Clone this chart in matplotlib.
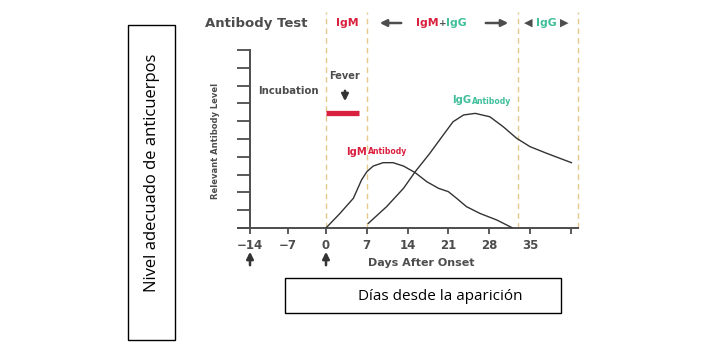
import matplotlib
matplotlib.use("Agg")
import numpy as np
import matplotlib.pyplot as plt
from matplotlib.patches import Rectangle

# ---- data ----
igm_days = [0, 2.4, 4.7, 6.1, 7.0, 8.1, 9.8, 11.5, 13.3, 15.3, 17.3, 19.3, 21.0, 22.4, 24.1, 26.4, 29.3, 31.9]
igm_level = [0.0, 0.82, 1.67, 2.70, 3.16, 3.48, 3.67, 3.67, 3.48, 3.11, 2.60, 2.23, 2.04, 1.67, 1.20, 0.82, 0.45, 0.02]
igg_days = [7.26, 10.4, 13.3, 15.3, 17.8, 20.1, 21.8, 23.6, 25.6, 28.1, 30.4, 32.7, 35.0, 37.9, 42.1]
igg_level = [0.26, 1.20, 2.23, 3.16, 4.19, 5.22, 5.97, 6.35, 6.44, 6.25, 5.69, 5.04, 4.57, 4.19, 3.67]
phase_bounds = [0, 7, 33.0, 43.2]
fever_start, fever_end, fever_level = 0, 5.6, 6.46
xtick_vals = [-14, -7, 0, 7, 14, 21, 28, 35, 42]
xtick_labels = ['\u221214', '\u22127', '0', '7', '14', '21', '28', '35', '']
ytick_vals = list(range(0, 11))

CF = dict(family=['DejaVu Sans'], fontweight='bold')
GRAY = '#4d4d4d'
RED = '#d9213f'
TEAL = '#3fbf9a'

fig = plt.figure(figsize=(7.13, 3.6), dpi=100)
ov = fig.add_axes([0, 0, 1, 1])
ov.set_xlim(0, 713)
ov.set_ylim(360, 0)
ov.axis('off')

# pre-onset days are drawn slightly compressed, as in the original figure
K = 0.931
def fwd(x):
    x = np.asarray(x, dtype=float)
    return np.where(x < 0, x * K, x)
def inv(x):
    x = np.asarray(x, dtype=float)
    return np.where(x < 0, x / K, x)

ax = fig.add_axes([238/713, (360-228)/360, 340/713, 178/360])
ax.patch.set_alpha(0)
ax.set_xscale('function', functions=(fwd, inv))
ax.set_xlim(-16.21, 43.23)
ax.set_ylim(0, 10)
for s in ['top', 'right']:
    ax.spines[s].set_visible(False)
ax.spines['left'].set_position(('data', -14))
ax.spines['left'].set_bounds(0, 10)
for s in ['left', 'bottom']:
    ax.spines[s].set_color(GRAY)
    ax.spines[s].set_linewidth(1.4)
ax.set_yticks(ytick_vals)
ax.tick_params(axis='y', length=9.5, width=1.3, color=GRAY, labelleft=False)
ax.set_xticks(xtick_vals)
ax.set_xticklabels(xtick_labels)
ax.xaxis.set_minor_locator(matplotlib.ticker.NullLocator())
ax.tick_params(axis='x', length=4, width=1.3, color=GRAY, pad=4, labelcolor=GRAY)
for lab in ax.get_xticklabels():
    lab.set_fontweight('bold')
    lab.set_fontsize(8.5)

ax.vlines(phase_bounds, 0, 12.13, colors='#e8c98c', linestyles=(0, (4, 3)), lw=1.0, clip_on=False, zorder=1)
ax.plot(igm_days, igm_level, color='#333333', lw=1.0, zorder=3)
ax.plot(igg_days, igg_level, color='#333333', lw=1.0, zorder=3)
ax.hlines(fever_level, fever_start, fever_end, colors=RED, lw=3.8, zorder=3)

# ---- annotations (pixel overlay) ----
ov.text(205, 23, 'Antibody Test', color=GRAY, fontsize=9.5, ha='left', va='center', **CF)
ov.text(347, 23, 'IgM', color=RED, fontsize=7.8, ha='center', va='center', **CF)
ov.annotate('', xy=(377, 23), xytext=(404, 23), arrowprops=dict(arrowstyle='-|>', color=GRAY, lw=1.8, mutation_scale=10))
ov.text(439, 23, 'IgM', color=RED, fontsize=7.8, ha='right', va='center', **CF)
ov.text(442.5, 24, '+', color=GRAY, fontsize=6.5, ha='center', va='center', **CF)
ov.text(446, 23, 'IgG', color=TEAL, fontsize=7.8, ha='left', va='center', **CF)
ov.annotate('', xy=(511, 23), xytext=(483, 23), arrowprops=dict(arrowstyle='-|>', color=GRAY, lw=1.8, mutation_scale=10))
ov.text(528, 23, '\u25C0', color=GRAY, fontsize=8, ha='center', va='center', family='DejaVu Sans')
ov.text(546, 23, 'IgG', color=TEAL, fontsize=7.8, ha='center', va='center', **CF)
ov.text(564, 23, '\u25B6', color=GRAY, fontsize=8, ha='center', va='center', family='DejaVu Sans')

ov.text(288, 91, 'Incubation', color=GRAY, fontsize=7.3, ha='center', va='center', **CF)
ov.text(345, 76, 'Fever', color=GRAY, fontsize=7, ha='center', va='center', **CF)
ov.annotate('', xy=(345, 104), xytext=(345, 88), arrowprops=dict(arrowstyle='-|>', color='#333333', lw=1.8, mutation_scale=10))

ov.text(452, 100, 'IgG', color=TEAL, fontsize=7.2, ha='left', va='center', **CF)
ov.text(472, 101, 'Antibody', color=TEAL, fontsize=5.6, ha='left', va='center', **CF)
ov.text(346, 152, 'IgM', color=RED, fontsize=7.2, ha='left', va='center', **CF)
ov.text(368, 152, 'Antibody', color=RED, fontsize=5.6, ha='left', va='center', **CF)

ov.text(216, 141, 'Relevant Antibody Level', color=GRAY, fontsize=6, rotation=90, ha='center', va='center', **CF)
ov.text(421, 263, 'Days After Onset', color=GRAY, fontsize=8, ha='center', va='center', **CF)
for xa in (250, 326):
    ov.annotate('', xy=(xa, 249), xytext=(xa, 268), arrowprops=dict(arrowstyle='-|>', color='#333333', lw=1.8, mutation_scale=10))

ov.add_patch(Rectangle((128, 25), 47, 315, fill=False, ec='black', lw=1.0))
ov.text(152, 173, 'Nivel adecuado de anticuerpos', rotation=90, ha='center', va='center', fontsize=12, family=['Open Sans', 'DejaVu Sans'], color='black')
ov.add_patch(Rectangle((285, 278), 276, 35, fill=False, ec='black', lw=1.0))
ov.text(440, 296, 'Días desde la aparición', ha='center', va='center', fontsize=11, family=['Open Sans', 'DejaVu Sans'], color='black')

fig.savefig('out.png', dpi=100)
